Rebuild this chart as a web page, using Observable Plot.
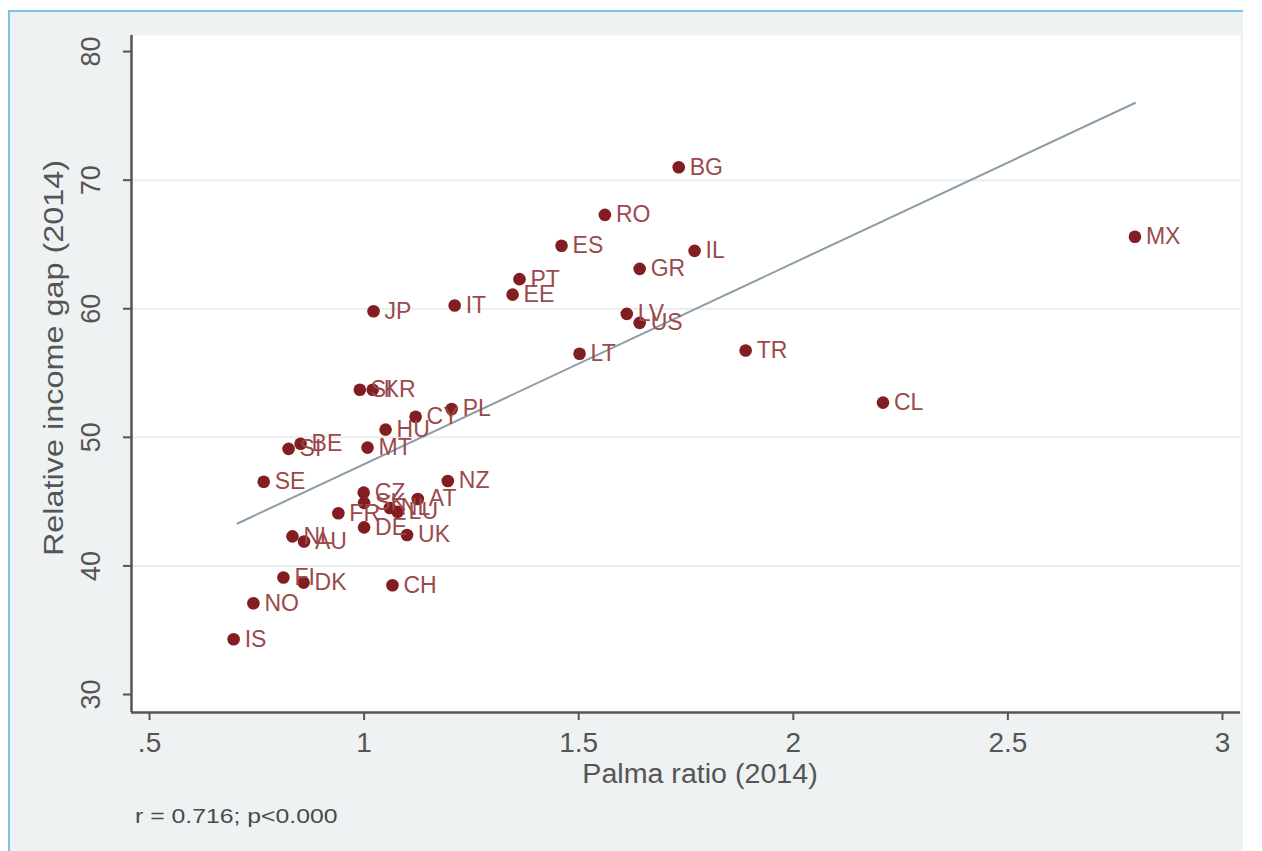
<!DOCTYPE html>
<html>
<head>
<meta charset="utf-8">
<script src="https://cdn.jsdelivr.net/npm/d3@7"></script>
<script src="https://cdn.jsdelivr.net/npm/@observablehq/plot@0.6"></script>
<style>
  html, body { margin: 0; padding: 0; background: #ffffff; }
  #frame {
    position: absolute; left: 8px; top: 10px; width: 1235px; height: 841px;
    box-sizing: border-box; border-left: 2px solid #7cc3e6; border-top: 2px solid #7cc3e6;
    background: #eef2f3;
  }
  #chart { position: absolute; left: 0; top: 0; }
  #caption {
    position: absolute; left: 125px; top: 792px;
    font-family: "Liberation Sans", Arial, sans-serif; font-size: 21px; color: #4a4a4a;
    transform: scaleX(1.18); transform-origin: left center; white-space: nowrap;
  }
</style>
</head>
<body>
<div id="frame">
  <div id="chart"></div>
  <div id="caption">r = 0.716; p&lt;0.000</div>
</div>
<script>
const countries = ["BG","RO","ES","IL","MX","GR","PT","EE","IT","JP","LV","US","LT","TR","CL",
  "SI","KR","PL","CY","HU","MT","SI2","BE","SE","NZ","CZ","SK","NL2","LU","FR","AT","DE","UK",
  "NL","AU","FI","DK","CH","NO","IS"];
const palma = [1.733,1.561,1.46,1.77,2.796,1.642,1.362,1.346,1.211,1.022,1.612,1.642,1.502,1.889,2.209,
  0.99,1.02,1.204,1.12,1.05,1.008,0.824,0.852,0.766,1.195,0.999,1.0,1.06,1.078,0.94,1.125,1.0,1.1,
  0.833,0.86,0.812,0.859,1.066,0.742,0.696];
const gap = [71.0,67.3,64.9,64.5,65.6,63.1,62.3,61.1,60.25,59.8,59.6,58.9,56.5,56.75,52.7,
  53.7,53.7,52.2,51.6,50.6,49.2,49.1,49.5,46.55,46.6,45.7,44.9,44.5,44.2,44.1,45.2,43.0,42.4,
  42.3,41.9,39.1,38.7,38.5,37.1,34.3];
const labels = ["BG","RO","ES","IL","MX","GR","PT","EE","IT","JP","LV","US","LT","TR","CL",
  "SI","KR","PL","CY","HU","MT","SI","BE","SE","NZ","CZ","SK","NL","LU","FR","AT","DE","UK",
  "NL","AU","FI","DK","CH","NO","IS"];
const fitX = [0.705, 2.796];
const fitY = [43.3, 76.0];
const xTicks = [0.5, 1, 1.5, 2, 2.5, 3];
const yTicks = [30, 40, 50, 60, 70, 80];
const gridVals = [40, 50, 60, 70];
const xTitle = "Palma ratio (2014)";
const yTitle = "Relative income gap (2014)";

const points = countries.map((c, i) => ({label: labels[i], x: palma[i], y: gap[i]}));
const fit = fitX.map((x, i) => ({x, y: fitY[i]}));
const xDomain = [0.458, 3.042];
const yDomain = [28.6, 81.25];
const fmtX = d => d === 0.5 ? ".5" : String(d);

const chart = Plot.plot({
  width: 1233,
  height: 788,
  marginLeft: 121,
  marginRight: 3,
  marginTop: 23,
  marginBottom: 88,
  style: {background: "transparent", fontFamily: "'Liberation Sans', Arial, sans-serif", color: "#555"},
  x: {domain: xDomain, ticks: xTicks, tickFormat: fmtX},
  y: {domain: yDomain, ticks: yTicks},
  marks: [
    Plot.frame({fill: "white", stroke: "none"}),
    Plot.gridY(gridVals, {stroke: "#e9eef0", strokeOpacity: 1, strokeWidth: 2}),
    Plot.axisX({ticks: xTicks, tickFormat: fmtX, tickSize: 8, tickPadding: 12,
      fontSize: 28, stroke: "#555", strokeWidth: 2, color: "#555", label: null}),
    Plot.axisY({ticks: yTicks, tickSize: 8, tickPadding: 24, tickRotate: -90,
      fontSize: 27, stroke: "#555", strokeWidth: 2, color: "#555", label: null}),
    Plot.text([xTitle], {frameAnchor: "bottom", textAnchor: "middle", dx: 14, dy: 70, fontSize: 27, fill: "#555"}),
    Plot.text([yTitle], {frameAnchor: "left", textAnchor: "middle", lineAnchor: "middle", dx: -77, dy: -16,
      rotate: -90, fontSize: 27, fill: "#555"}),
    Plot.ruleX([xDomain[0]], {stroke: "#555", strokeWidth: 2.5}),
    Plot.ruleY([yDomain[0]], {stroke: "#555", strokeWidth: 2.5}),
    Plot.line(fit, {x: "x", y: "y", stroke: "#8c9ca7", strokeWidth: 2}),
    Plot.dot(points, {x: "x", y: "y", r: 6.3, fill: "#821d21", stroke: "none"}),
    Plot.text(points, {x: "x", y: "y", text: "label", dx: 11, textAnchor: "start",
      fill: "#9a4a4c", fontSize: 23})
  ]
});
chart.querySelectorAll("text").forEach(t => {
  if (t.textContent === yTitle) {
    t.setAttribute("transform", (t.getAttribute("transform") || "") + " scale(1.2,1)");
  } else if (t.textContent === xTitle) {
    t.setAttribute("transform", (t.getAttribute("transform") || "") + " scale(1.06,1)");
  }
});
document.getElementById("chart").appendChild(chart);
</script>
</body>
</html>
